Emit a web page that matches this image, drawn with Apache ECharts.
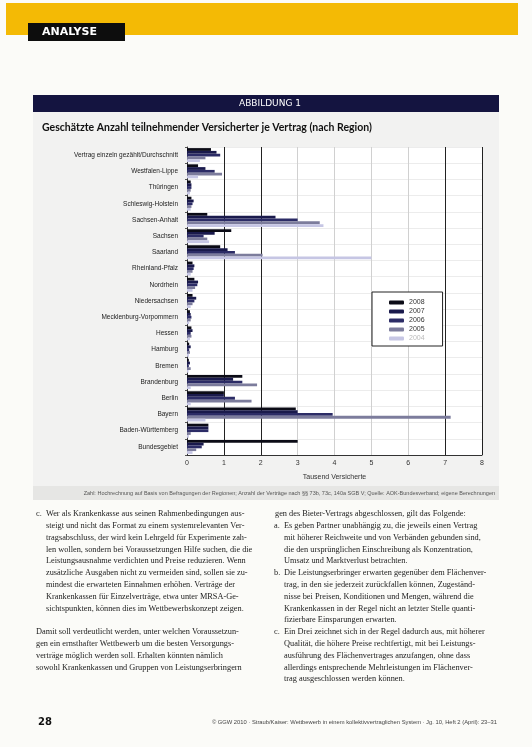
<!DOCTYPE html>
<html><head><meta charset="utf-8">
<script src="https://cdn.jsdelivr.net/npm/echarts@6/dist/echarts.min.js"></script>
<style>html,body{margin:0;padding:0;background:#fbfbf8;}#c{width:532px;height:747px;}</style>
</head><body><div id="c"></div>
<script>
// ---- data ----
const categories = [
  'Vertrag einzeln gezählt/Durchschnitt','Westfalen-Lippe','Thüringen','Schleswig-Holstein',
  'Sachsen-Anhalt','Sachsen','Saarland','Rheinland-Pfalz','Nordrhein','Niedersachsen',
  'Mecklenburg-Vorpommern','Hessen','Hamburg','Bremen','Brandenburg','Berlin','Bayern',
  'Baden-Württemberg','Bundesgebiet'
];
const seriesNames = ['2008','2007','2006','2005','2004'];
const s2008 = [0.65,0.30,0.10,0.12,0.55,1.20,0.90,0.15,0.20,0.15,0.08,0.12,0.06,0.05,1.50,1.00,2.95,0.58,3.00];
const s2007 = [0.80,0.50,0.12,0.18,2.40,0.75,1.10,0.20,0.30,0.25,0.10,0.15,0.10,0.08,1.25,1.00,3.00,0.58,0.45];
const s2006 = [0.90,0.75,0.12,0.15,3.00,0.45,1.30,0.18,0.28,0.20,0.12,0.10,0.06,0.05,1.50,1.30,3.95,0.58,0.40];
const s2005 = [0.50,0.95,0.10,0.12,3.60,0.55,2.05,0.15,0.22,0.15,0.10,0.12,0.08,0.10,1.90,1.75,7.15,0.10,0.25];
const s2004 = [0.35,0.30,0.08,0.10,3.70,0.60,5.00,0.10,0.15,0.10,0.06,0.08,0.05,0.04,0.10,0.10,0.50,0.05,0.15];
const xTickLabels = ['0','1','2','3','4','5','6','7','8'];
const seriesData = [s2008, s2007, s2006, s2005, s2004];
const colors = ['#0b0b16','#1a1a4c','#2c2c66','#7c7c9c','#c6c6e4'];

const bodyLeft1 = [
  'Wer als Krankenkasse aus seinen Rahmenbedingungen aus-',
  'steigt und nicht das Format zu einem systemrelevanten Ver-',
  'tragsabschluss, der wird kein Lehrgeld für Experimente zah-',
  'len wollen, sondern bei Voraussetzungen Hilfe suchen, die die',
  'Leistungsausnahme verdichten und Preise reduzieren. Wenn',
  'zusätzliche Ausgaben nicht zu vermeiden sind, sollen sie zu-',
  'mindest die erwarteten Einnahmen erhöhen. Verträge der',
  'Krankenkassen für Einzelverträge, etwa unter MRSA-Ge-',
  'sichtspunkten, können dies im Wettbewerbskonzept zeigen.'
];
const bodyLeft2 = [
  'Damit soll verdeutlicht werden, unter welchen Voraussetzun-',
  'gen ein ernsthafter Wettbewerb um die besten Versorgungs-',
  'verträge möglich werden soll. Erhalten könnten nämlich',
  'sowohl Krankenkassen und Gruppen von Leistungserbringern'
];
const bodyRightFirst = 'gen des Bieter-Vertrags abgeschlossen, gilt das Folgende:';
const bodyRight = [
  'Es geben Partner unabhängig zu, die jeweils einen Vertrag',
  'mit höherer Reichweite und von Verbänden gebunden sind,',
  'die den ursprünglichen Einschreibung als Konzentration,',
  'Umsatz und Marktverlust betrachten.',
  'Die Leistungserbringer erwarten gegenüber dem Flächenver-',
  'trag, in den sie jederzeit zurückfallen können, Zugeständ-',
  'nisse bei Preisen, Konditionen und Mengen, während die',
  'Krankenkassen in der Regel nicht an letzter Stelle quanti-',
  'fizierbare Einsparungen erwarten.',
  'Ein Drei zeichnet sich in der Regel dadurch aus, mit höherer',
  'Qualität, die höhere Preise rechtfertigt, mit bei Leistungs-',
  'ausführung des Flächenvertrages anzufangen, ohne dass',
  'allerdings entsprechende Mehrleistungen im Flächenver-',
  'trag ausgeschlossen werden können.'
];
const rightMarks = {0:'a.', 4:'b.', 9:'c.'};

const chart = echarts.init(document.getElementById('c'), null, {renderer:'canvas'});

const LH = 11.8, TOP = 514;
const BODY_FONT = '8.3px "Liberation Serif"';
const graphics = [
  {type:'rect', z:-10, shape:{x:6,y:3,width:512,height:32}, style:{fill:'#f4ba05'}},
  {type:'rect', z:-9, shape:{x:28,y:23,width:97,height:18}, style:{fill:'#0d0d0d'}},
  {type:'text', z:5, x:42, y:32, style:{text:'ANALYSE', fill:'#fff', font:'bold 11px "DejaVu Sans"', verticalAlign:'middle'}},
  {type:'rect', z:-10, shape:{x:33,y:112,width:466,height:388}, style:{fill:'#f2f2f1'}},
  {type:'rect', z:-9, shape:{x:33,y:95,width:466,height:17}, style:{fill:'#141440'}},
  {type:'text', z:5, x:270, y:104, style:{text:'ABBILDUNG 1', fill:'#fff', font:'9px "DejaVu Sans"', align:'center', verticalAlign:'middle'}},
  {type:'text', z:5, x:42, y:128, style:{text:'Geschätzte Anzahl teilnehmender Versicherter je Vertrag (nach Region)', fill:'#111', font:'bold 10.5px Lato', verticalAlign:'middle'}},
  {type:'rect', z:-9, shape:{x:33,y:486,width:466,height:14}, style:{fill:'#e6e6e4'}},
  {type:'text', z:5, x:495, y:493, style:{text:'Zahl: Hochrechnung auf Basis von Befragungen der Regionen; Anzahl der Verträge nach §§ 73b, 73c, 140a SGB V; Quelle: AOK-Bundesverband; eigene Berechnungen', fill:'#555', font:'5.5px "Liberation Sans"', align:'right', verticalAlign:'middle'}},
  {type:'text', x:36, y:TOP, style:{text:'c.', fill:'#222', font:BODY_FONT, verticalAlign:'middle'}},
  {type:'text', x:46, y:TOP-LH/2, style:{text:bodyLeft1.join('\n'), fill:'#222', font:BODY_FONT, lineHeight:LH, verticalAlign:'top'}},
  {type:'text', x:36, y:632-LH/2, style:{text:bodyLeft2.join('\n'), fill:'#222', font:BODY_FONT, lineHeight:LH, verticalAlign:'top'}},
  {type:'text', x:275, y:TOP, style:{text:bodyRightFirst, fill:'#222', font:BODY_FONT, verticalAlign:'middle'}},
  {type:'text', x:284, y:TOP+LH/2, style:{text:bodyRight.join('\n'), fill:'#222', font:BODY_FONT, lineHeight:LH, verticalAlign:'top'}},
  {type:'text', x:38, y:722, style:{text:'28', fill:'#111', font:'bold 10px "DejaVu Sans"', verticalAlign:'middle'}},
  {type:'text', x:497, y:722, style:{text:'© GGW 2010 · Straub/Kaiser: Wettbewerb in einem kollektivvertraglichen System · Jg. 10, Heft 2 (April): 23–31', fill:'#444', font:'5.8px "Liberation Sans"', align:'right', verticalAlign:'middle'}}
];
Object.keys(rightMarks).forEach(k => {
  graphics.push({type:'text', x:274, y:TOP + (+k + 1)*LH, style:{text:rightMarks[k], fill:'#222', font:BODY_FONT, verticalAlign:'middle'}});
});

const option = {
  animation:false,
  backgroundColor:'#fbfbf8',
  color: colors,
  graphic: graphics,
  grid:{left:187, right:50, top:147, bottom:292, show:true, backgroundColor:'#ffffff', borderWidth:0},
  legend:{
    orient:'vertical', left:372, top:292,
    backgroundColor:'#fff', borderColor:'#222', borderWidth:1, borderRadius:0,
    padding:[7,18,4,17], itemWidth:15, itemHeight:4, itemGap:2, icon:'roundRect',
    textStyle:{fontSize:7, color:'#333', fontFamily:'Liberation Sans'},
    data: seriesNames.map((n,i)=> i===4 ? {name:n, textStyle:{color:'#bbb'}} : {name:n})
  },
  xAxis:{
    type:'value', min:0, max:8, interval:1,
    name:'Tausend Versicherte', nameLocation:'middle', nameGap:19,
    nameTextStyle:{fontSize:7, color:'#333', fontFamily:'Liberation Sans'},
    axisLine:{show:true, lineStyle:{color:'#333', width:1}},
    axisTick:{show:false},
    axisLabel:{fontSize:7, color:'#333', fontFamily:'Liberation Sans', margin:5, formatter:(v)=>xTickLabels[v]},
    splitLine:{show:true, lineStyle:{color:['#222','#222','#222','#d0d0d0','#d0d0d0','#d0d0d0','#d0d0d0','#222','#222'], width:1}}
  },
  yAxis:{
    type:'category', data:categories, inverse:true,
    axisLine:{show:true, lineStyle:{color:'#333', width:1}},
    axisTick:{show:true, length:2, lineStyle:{color:'#555'}},
    axisLabel:{fontSize:6.5, color:'#222', fontFamily:'Liberation Sans', margin:9},
    splitLine:{show:true, lineStyle:{color:'#ececec'}}
  },
  series: seriesNames.map((n,i)=>({
    name:n, type:'bar', data:seriesData[i], barWidth:2.8, barGap:'0%',
    itemStyle:{color:colors[i]}
  }))
};
chart.setOption(option);
</script>
</body></html>
